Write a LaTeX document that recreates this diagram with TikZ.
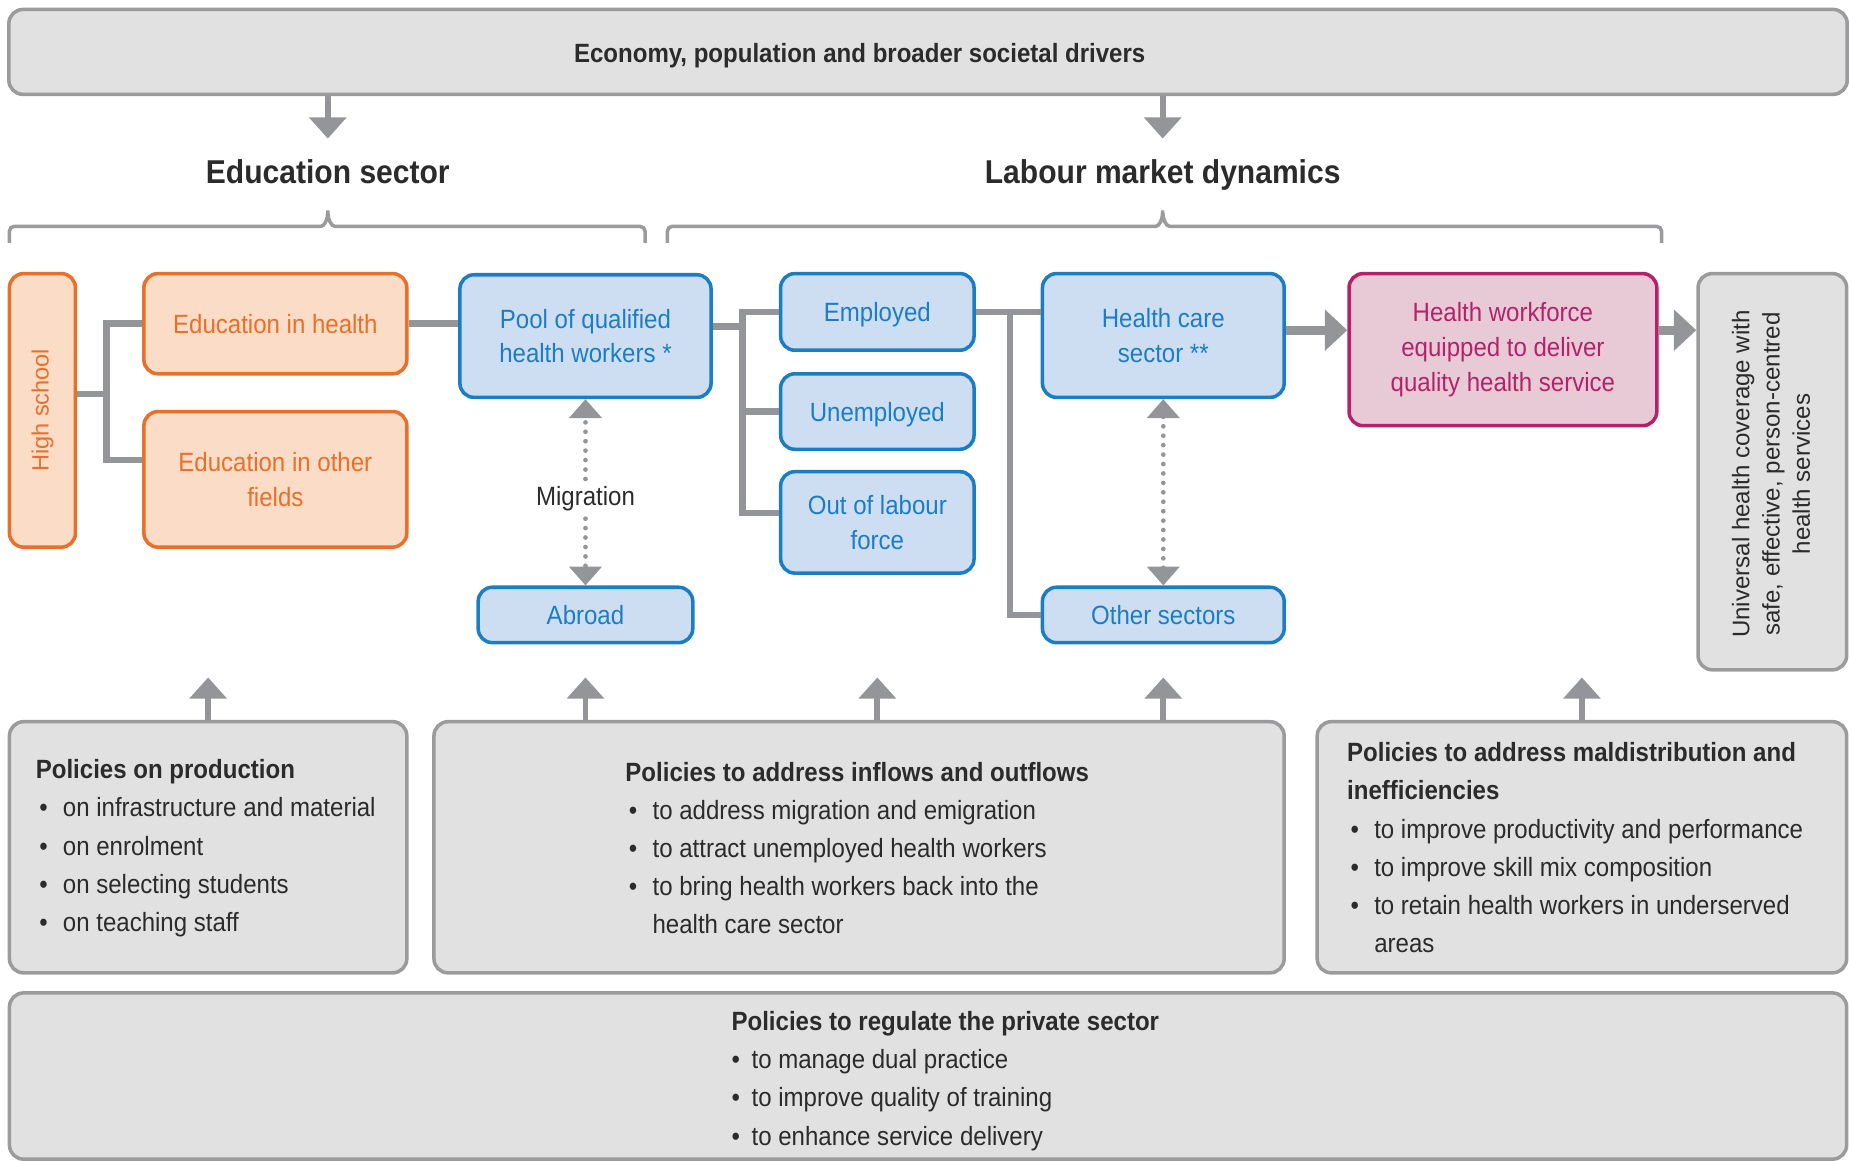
\documentclass[tikz,border=0pt]{standalone}
\usepackage{graphicx}
\usepackage{fontspec}
\setmainfont{Liberation Sans}[FakeStretch=0.91]
\newfontfamily\widesans{Liberation Sans}
\usetikzlibrary{arrows.meta}

\definecolor{boxgrey}{HTML}{E1E1E1}
\definecolor{edgegrey}{HTML}{9B9B9D}
\definecolor{linkgrey}{HTML}{939598}
\definecolor{inkdark}{HTML}{2B2B2B}
\definecolor{eduorange}{HTML}{E8702A}
\definecolor{edufill}{HTML}{FADCC7}
\definecolor{labblue}{HTML}{1B7EC3}
\definecolor{labfill}{HTML}{CDDDF2}
\definecolor{hwfmag}{HTML}{B5216B}
\definecolor{hwffill}{HTML}{E7CAD6}

\newcommand{\boxsize}{\fontsize{11.2}{14.75}\selectfont}
\newcommand{\listsize}{\fontsize{11.2}{16.2}\selectfont}
\newcommand{\headsize}{\fontsize{14}{17}\selectfont}
\newcommand{\pbul}{\makebox[11.5pt][l]{\hspace{1.5pt}\textbullet}}
\newcommand{\privbul}{\makebox[8.5pt][l]{\textbullet}}

\tikzset{
  dottip/.tip={Triangle[width=13.5pt,length=8pt]},
  feedtip/.tip={Triangle[width=15.5pt,length=9pt]},
  bigtip/.tip={Triangle[width=17pt,length=9.5pt]}
}

\begin{document}
\begin{tikzpicture}[x=0.5pt,y=-0.5pt,line join=miter,
    panel/.style={draw=edgegrey,fill=boxgrey,line width=1.5pt,rounded corners=6pt,inner sep=0pt},
    edubox/.style={draw=eduorange,fill=edufill,text=eduorange,line width=1.5pt,rounded corners=6pt,
      align=center,inner sep=0pt,font=\boxsize},
    labbox/.style={edubox,draw=labblue,fill=labfill,text=labblue},
    hwfbox/.style={edubox,draw=hwfmag,fill=hwffill,text=hwfmag},
    link/.style={draw=linkgrey,line width=2.8pt},
    feed/.style={draw=linkgrey,line width=2.5pt,-feedtip},
    bigfeed/.style={draw=linkgrey,line width=3.8pt,-bigtip},
    flowdots/.style={draw=linkgrey,line width=2pt,line cap=round,dash pattern=on 0pt off 4pt,-dottip},
    brace/.style={draw=edgegrey,line width=1.5pt,rounded corners=2pt},
    listtext/.style={anchor=base west,align=left,inner sep=0pt,text=inkdark,font=\listsize}]
    \useasboundingbox (0,0) rectangle (1568,985);

    % societal drivers on top
    \node[panel,minimum width=779.5pt,minimum height=36pt] (drivers) at (787,44) {};
    \node[anchor=base,font=\boxsize\bfseries,text=inkdark] (driverslabel) at (729,53)
      {Economy, population and broader societal drivers};

    % sector headings
    \node[anchor=base,font=\headsize\bfseries,text=inkdark] (eduhead) at (278,156) {Education sector};
    \node[anchor=base,font=\headsize\bfseries,text=inkdark] (labhead) at (986,156) {Labour market dynamics};
    \draw[feed] (drivers.south -| eduhead) -- ++(0,36);
    \draw[feed] (drivers.south -| labhead) -- ++(0,36);

    % braces under the headings
    \draw[brace] (8,206) -- (8,192) -- (268,192) .. controls (275,192) and (278,186) .. (278,176)
      .. controls (278,186) and (281,192) .. (288,192) -- (547,192) -- (547,206);
    \draw[brace] (566,206) -- (566,192) -- (976,192) .. controls (983,192) and (986,186) .. (986,176)
      .. controls (986,186) and (989,192) .. (996,192) -- (1409,192) -- (1409,206);

    % education sector
    \node[edubox,minimum width=28pt,minimum height=116pt] (school) at (36,348)
      {\rotatebox{90}{\widesans\fontsize{10}{12}\selectfont High school}};
    \node[edubox,minimum width=111.5pt,minimum height=42.5pt] (eduhealth) at (233.5,274.5) {Education in health};
    \node[edubox,minimum width=111.5pt,minimum height=57.5pt] (eduother) at (233.5,406.5) {Education in other\\fields};

    % labour market
    \node[labbox,minimum width=106.5pt,minimum height=52pt] (pool) at (496.5,285) {Pool of qualified\\health workers *};
    \node[labbox,minimum width=91pt,minimum height=23.5pt] (abroad) at (496.5,521.5) {Abroad};
    \node[font=\boxsize,text=inkdark,inner sep=3pt] (migration) at (496.5,423) {Migration};
    \node[labbox,minimum width=82pt,minimum height=32.5pt,text depth=0pt] (employed) at (744,264.5) {Employed};
    \node[labbox,minimum width=82pt,minimum height=32pt,text depth=0pt] (unemployed) at (744,349) {Unemployed};
    \node[labbox,minimum width=82pt,minimum height=43pt] (outforce) at (744,443) {Out of labour\\force};
    \node[labbox,minimum width=102.5pt,minimum height=52.5pt] (hcsector) at (986.5,284.5) {Health care\\sector **};
    \node[labbox,minimum width=102.5pt,minimum height=23.5pt] (othersec) at (986.5,521.5) {Other sectors};

    % outcomes
    \node[hwfbox,minimum width=130.5pt,minimum height=64.5pt] (workforce) at (1274.5,296.5)
      {Health workforce\\equipped to deliver\\quality health service};
    \node[panel,minimum width=63pt,minimum height=168pt] (uhc) at (1503,400) {};
    \node[text=inkdark,inner sep=0pt] (uhclabel) at (1504,402)
      {\rotatebox{90}{\widesans\fontsize{10.2}{12.8}\selectfont
        \begin{tabular}{@{}c@{}}Universal health coverage with\\safe, effective, person-centred\\health services\end{tabular}}};

    % links between the boxes
    \draw[link] ([yshift=7pt]school.east) -- ++(12.5pt,0) coordinate (eduSplit) |- (eduhealth.west);
    \draw[link] (eduSplit) |- ([yshift=8.25pt]eduother.west);
    \draw[link] (eduhealth.east) -- (eduhealth.east -| pool.west);
    \draw[link] ([yshift=4pt]pool.east) -- ++(12.5pt,0) coordinate (labSplit) |- (employed.west);
    \draw[link] (labSplit) |- (unemployed.west);
    \draw[link] (labSplit) |- ([yshift=4pt]outforce.west);
    \draw[link] (employed.east) -- ++(14.5pt,0) coordinate (secSplit) -- (secSplit -| hcsector.west);
    \draw[link] (secSplit) |- (othersec.west);
    \draw[bigfeed] ([yshift=2.25pt]hcsector.east) -- ([yshift=2.25pt]hcsector.east -| workforce.west);
    \draw[bigfeed] ([yshift=8.25pt]workforce.east) -- ([yshift=8.25pt]workforce.east -| uhc.west);

    % migration and sector moves (dotted)
    \draw[flowdots] (migration) -- (pool);
    \draw[flowdots] (migration) -- (abroad);
    \draw[flowdots,dottip-dottip] (hcsector) -- (othersec);

    % policy panels (text anchored at the baseline of its last line)
    \node[panel,minimum width=168.5pt,minimum height=106.5pt] (polprod) at (176.5,718.5) {};
    \node[panel,minimum width=360.5pt,minimum height=106.5pt] (polflow) at (728.5,718.5) {};
    \node[panel,minimum width=224.5pt,minimum height=106.5pt] (polmal) at (1341.5,718.5) {};
    \node[panel,minimum width=779pt,minimum height=70.5pt] (polpriv) at (787,912.5) {};

    \node[listtext] (prodtext) at (30,790) {\textbf{Policies on production}\\\pbul on infrastructure and material\\
      \pbul on enrolment\\\pbul on selecting students\\\pbul on teaching staff};
    \node[listtext] (flowtext) at (530,792) {\textbf{Policies to address inflows and outflows}\\
      \pbul to address migration and emigration\\\pbul to attract unemployed health workers\\
      \pbul to bring health workers back into the\\\hspace*{11.5pt}health care sector};
    \node[listtext] (maltext) at (1142,808) {\textbf{Policies to address maldistribution and}\\\textbf{inefficiencies}\\
      \pbul to improve productivity and performance\\\pbul to improve skill mix composition\\
      \pbul to retain health workers in underserved\\\hspace*{11.5pt}areas};
    \node[listtext] (privtext) at (620,971) {\textbf{Policies to regulate the private sector}\\
      \privbul to manage dual practice\\\privbul to improve quality of training\\\privbul to enhance service delivery};

    % policies acting on the flows
    \draw[feed] (polprod.north) -- ++(0,-36);
    \draw[feed] (polflow.north -| pool) -- ++(0,-36);
    \draw[feed] (polflow.north -| employed) -- ++(0,-36);
    \draw[feed] (polflow.north -| hcsector) -- ++(0,-36);
    \draw[feed] (polmal.north) -- ++(0,-36);
  \end{tikzpicture}
\end{document}
